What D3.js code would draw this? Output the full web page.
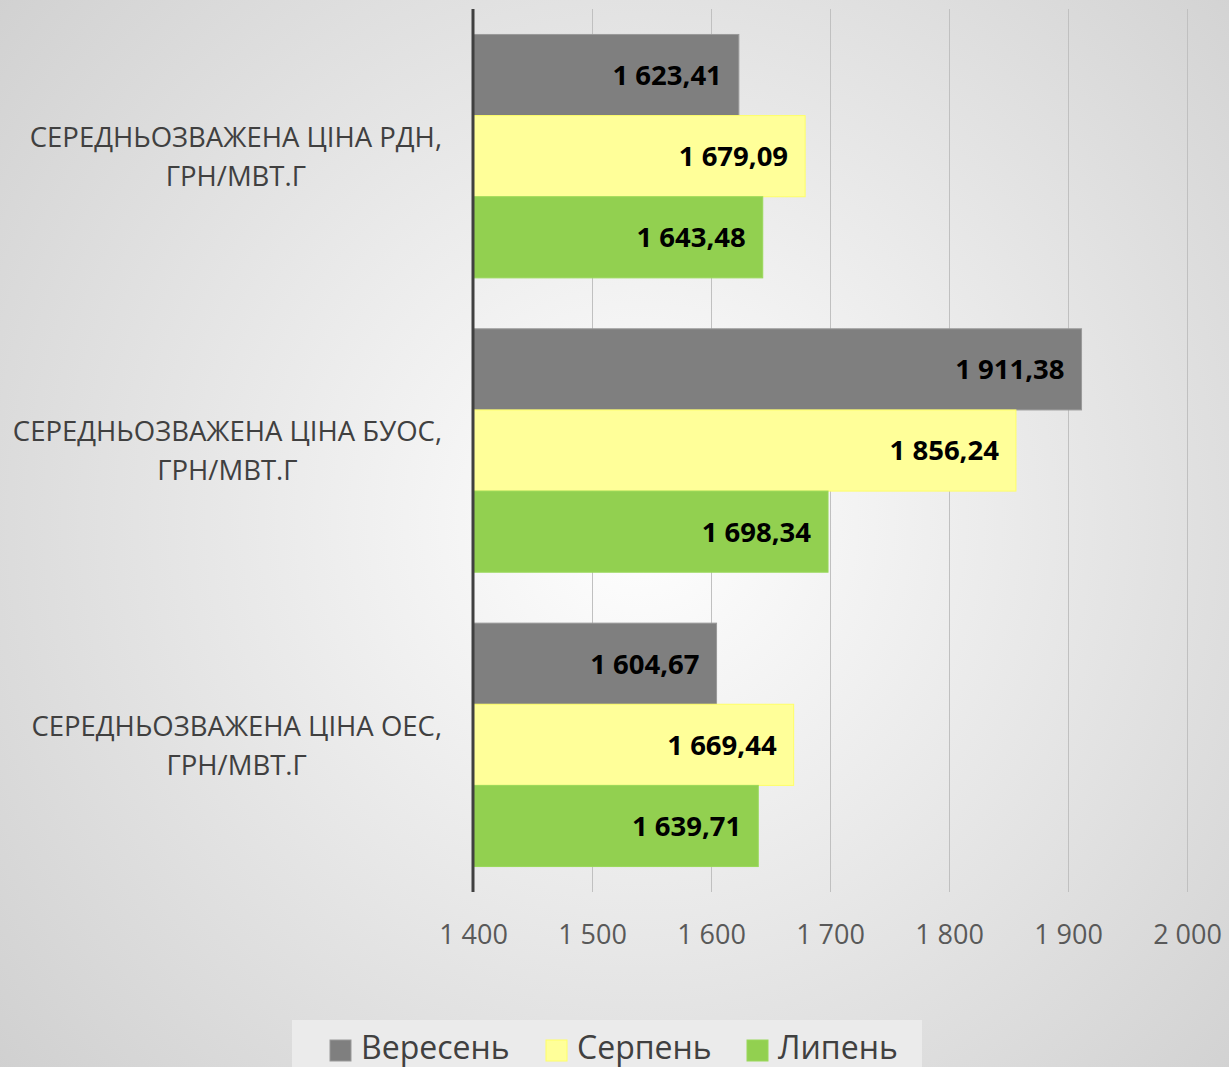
<!DOCTYPE html>
<html><head><meta charset="utf-8">
<script src="https://cdn.jsdelivr.net/npm/d3@7"></script>
<style>html,body{margin:0;padding:0;overflow:hidden;}svg{display:block;}</style>
</head><body>
<svg id="chart" width="1229" height="1067"></svg>
<script>
const categories = ["СЕРЕДНЬОЗВАЖЕНА ЦІНА РДН,|ГРН/МВТ.Г", "СЕРЕДНЬОЗВАЖЕНА ЦІНА БУОС,|ГРН/МВТ.Г", "СЕРЕДНЬОЗВАЖЕНА ЦІНА ОЕС,|ГРН/МВТ.Г"];
const seriesNames = ["Вересень", "Серпень", "Липень"];
const september = [1623.41, 1911.38, 1604.67];
const august = [1679.09, 1856.24, 1669.44];
const july = [1643.48, 1698.34, 1639.71];
const tickValues = [1400, 1500, 1600, 1700, 1800, 1900, 2000];
const colors = ["#7f7f7f", "#ffff99", "#92d050"];
const strokes = ["#9a9a9a", "#ffff66", "#9ad85a"];

const seriesValues = [september, august, july];
const fmt = v => d3.format(",.2f")(v).replace(/,/g, " ").replace(".", ",");
const fmtTick = v => d3.format(",")(v).replace(/,/g, " ");

const svg = d3.select("#chart");
const W = 1229, H = 1067;
const defs = svg.append("defs");
const rg = defs.append("radialGradient").attr("id", "bg").attr("gradientUnits", "userSpaceOnUse")
  .attr("cx", 640).attr("cy", 520).attr("r", 900);
rg.append("stop").attr("offset", "0%").attr("stop-color", "#ffffff");
rg.append("stop").attr("offset", "100%").attr("stop-color", "#cdcdcd");
svg.append("rect").attr("width", W).attr("height", H).attr("fill", "url(#bg)");

const x = d3.scaleLinear().domain([1400, 2000]).range([473, 1187]);
const plotTop = 9, plotBottom = 892;
const y0 = d3.scaleBand().domain(d3.range(categories.length)).range([plotTop, plotBottom])
  .paddingInner(0.173).paddingOuter(0.0865);
const y1 = d3.scaleBand().domain(d3.range(seriesNames.length)).range([0, y0.bandwidth()]);

// gridlines
const xAxis = d3.axisBottom(x).tickValues(tickValues).tickFormat(fmtTick)
  .tickSize(-(plotBottom - plotTop)).tickPadding(33);
const gx = svg.append("g").attr("transform", `translate(0,${plotBottom})`).call(xAxis);
gx.select(".domain").remove();
gx.selectAll(".tick line").attr("stroke", "#c0c0c0").attr("stroke-width", 1)
  .filter(d => d === 1400).remove();
gx.selectAll(".tick text").attr("fill", "#595959").attr("font-family", "'Open Sans', sans-serif")
  .attr("font-size", 27);

// bars
const groups = svg.append("g").selectAll("g").data(categories).join("g")
  .attr("transform", (d, i) => `translate(0,${y0(i)})`);
groups.each(function(cat, ci) {
  const g = d3.select(this);
  seriesValues.forEach((vals, si) => {
    const v = vals[ci];
    g.append("rect").attr("x", x(1400)).attr("y", y1(si))
      .attr("width", x(v) - x(1400)).attr("height", y1.bandwidth())
      .attr("fill", colors[si]).attr("stroke", strokes[si]).attr("stroke-width", 1);
    g.append("text").attr("x", x(v) - 17).attr("y", y1(si) + y1.bandwidth() / 2)
      .attr("dy", "0.36em").attr("text-anchor", "end")
      .attr("font-family", "'Open Sans', sans-serif").attr("font-weight", "bold")
      .attr("font-size", 27.5).attr("fill", "#000").text(fmt(v));
  });
  // category label
  const lines = cat.split("|");
  const cy = y0.bandwidth() / 2;
  const t1 = g.append("text").attr("font-family", "'Open Sans', sans-serif").attr("font-size", 27.5)
    .attr("fill", "#404040").attr("y", cy - 19).attr("dy", "0.36em").text(lines[0]);
  const w1 = t1.node().getComputedTextLength();
  const cx = 442 - w1 / 2;
  t1.attr("x", cx).attr("text-anchor", "middle");
  g.append("text").attr("font-family", "'Open Sans', sans-serif").attr("font-size", 27.5)
    .attr("fill", "#404040").attr("x", cx).attr("y", cy + 20).attr("dy", "0.36em")
    .attr("text-anchor", "middle").text(lines[1]);
});

// vertical axis line
svg.append("line").attr("x1", x(1400)).attr("x2", x(1400)).attr("y1", plotTop).attr("y2", plotBottom)
  .attr("stroke", "#404040").attr("stroke-width", 3);

// legend
const lg = svg.append("g");
lg.append("rect").attr("x", 292).attr("y", 1020).attr("width", 630).attr("height", 60).attr("fill", "#ebebeb");
const legendX = [330, 546, 747];
seriesNames.forEach((n, i) => {
  lg.append("rect").attr("x", legendX[i]).attr("y", 1040).attr("width", 21).attr("height", 21)
    .attr("fill", colors[i]).attr("stroke", strokes[i]).attr("stroke-width", 1);
  lg.append("text").attr("x", legendX[i] + 31).attr("y", 1059)
    .attr("font-family", "'Open Sans', sans-serif").attr("font-size", 32).attr("fill", "#404040").text(n);
});
</script>
</body></html>
